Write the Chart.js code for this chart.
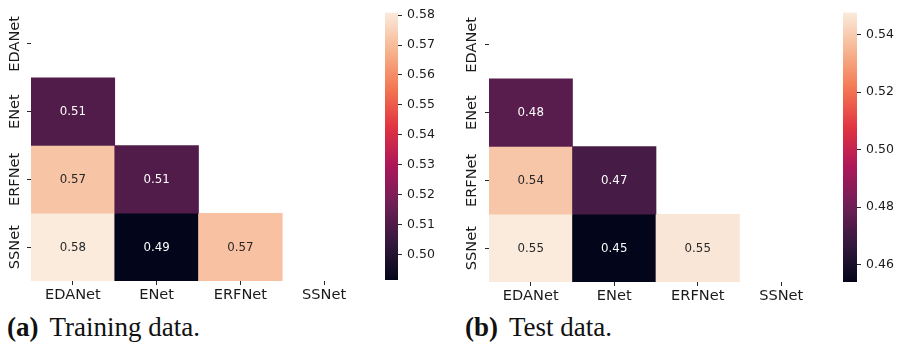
<!DOCTYPE html>
<html>
<head>
<meta charset="utf-8">
<script src="https://cdn.jsdelivr.net/npm/chart.js@4.4.1/dist/chart.umd.min.js"></script>
<style>
  html, body { margin: 0; padding: 0; background: #fff; width: 898px; height: 347px; overflow: hidden; }
  canvas { position: absolute; display: block; }
  .cap { position: absolute; font-family: "Liberation Serif", "Times New Roman", serif; font-size: 27px;
         line-height: 27px; color: #111; white-space: nowrap; }
  .cap b { margin-right: 11px; }
</style>
</head>
<body>
<canvas id="heatTrain" width="380" height="310" style="left:0;top:0"></canvas>
<canvas id="barTrain" width="70" height="300" style="left:380px;top:0"></canvas>
<canvas id="heatTest" width="390" height="310" style="left:450px;top:0"></canvas>
<canvas id="barTest" width="60" height="300" style="left:838px;top:0"></canvas>
<div class="cap" style="left:7px;top:314px"><b>(a)</b>Training data.</div>
<div class="cap" style="left:465px;top:314px"><b>(b)</b>Test data.</div>

<script>
// Models compared pairwise (rows and columns share the same order)
const models = ['EDANet', 'ENet', 'ERFNet', 'SSNet'];

// Lower-triangle similarity scores, one row per model (null = masked cell)
const trainScores = [
  [null,   null,   null,   null],
  [0.5105, null,   null,   null],
  [0.5718, 0.5105, null,   null],
  [0.5809, 0.4914, 0.5712, null]
];
const testScores = [
  [null,   null,   null,   null],
  [0.4755, null,   null,   null],
  [0.5385, 0.4712, null,   null],
  [0.5477, 0.4539, 0.5466, null]
];

// Colour-bar tick labels
const trainBarTicks = [0.50, 0.51, 0.52, 0.53, 0.54, 0.55, 0.56, 0.57, 0.58];
const testBarTicks = [0.46, 0.48, 0.50, 0.52, 0.54];

// "rocket" sequential colormap stops
const rocketStops = [
  [0, '#03051a'], [1 / 7, '#35193e'], [2 / 7, '#701f57'], [3 / 7, '#ad1759'],
  [4 / 7, '#e13342'], [5 / 7, '#f37651'], [6 / 7, '#f6b48f'], [1, '#faebdd']
];

function hexRgb(h) {
  return [parseInt(h.slice(1, 3), 16), parseInt(h.slice(3, 5), 16), parseInt(h.slice(5, 7), 16)];
}
function rocket(t) {
  t = Math.max(0, Math.min(1, t));
  for (let k = 1; k < rocketStops.length; k++) {
    const [p1, c1] = rocketStops[k];
    if (t <= p1) {
      const [p0, c0] = rocketStops[k - 1];
      const f = (t - p0) / (p1 - p0);
      const a = hexRgb(c0), b = hexRgb(c1);
      return a.map((v, i) => Math.round(v + (b[i] - v) * f));
    }
  }
  return hexRgb(rocketStops[rocketStops.length - 1][1]);
}
const rgbStr = c => `rgb(${c[0]},${c[1]},${c[2]})`;

function range(scores) {
  const flat = scores.flat().filter(v => v !== null);
  return [Math.min(...flat), Math.max(...flat)];
}

const tickColor = '#262626';
const labelColor = '#1a1a1a';

// Writes each cell's value in its centre
const cellLabels = {
  id: 'cellLabels',
  afterDatasetsDraw(chart) {
    const ctx = chart.ctx;
    ctx.save();
    ctx.font = '11.8px "DejaVu Sans"';
    ctx.textAlign = 'center';
    ctx.textBaseline = 'middle';
    chart.data.datasets.forEach((ds, di) => {
      chart.getDatasetMeta(di).data.forEach((el, j) => {
        const v = ds.scores[j];
        if (v === null || v === undefined) return;
        const p = el.getCenterPoint();
        ctx.fillStyle = ds.textColors[j];
        ctx.fillText(v.toFixed(2), p.x, p.y + 0.5);
      });
    });
    ctx.restore();
  }
};

// Vertical row labels on the left axis
const rowLabels = {
  id: 'rowLabels',
  afterDraw(chart, args, opts) {
    const ctx = chart.ctx, y = chart.scales.y;
    ctx.save();
    ctx.font = '14.6px "DejaVu Sans"';
    ctx.fillStyle = labelColor;
    ctx.textAlign = 'center';
    ctx.textBaseline = 'middle';
    models.forEach((m, i) => {
      ctx.save();
      ctx.translate(opts.x, y.getPixelForValue(i + 0.5));
      ctx.rotate(-Math.PI / 2);
      ctx.fillText(m, 0, 0);
      ctx.restore();
    });
    ctx.restore();
  }
};

function heatmap(id, scores, g) {
  const [vmin, vmax] = range(scores);
  const datasets = [];
  scores.forEach((row, i) => {
    const data = row.map(v => (v === null ? null : [i, i + 1]));
    const cols = row.map(v => (v === null ? 'rgba(0,0,0,0)' : rgbStr(rocket((v - vmin) / (vmax - vmin)))));
    const txt = row.map(v => {
      if (v === null) return null;
      const c = rocket((v - vmin) / (vmax - vmin));
      const lum = 0.2126 * c[0] + 0.7152 * c[1] + 0.0722 * c[2];
      return lum < 104 ? '#ffffff' : '#262626';
    });
    datasets.push({ data, backgroundColor: cols, scores: row, textColors: txt });
  });

  return new Chart(document.getElementById(id), {
    type: 'bar',
    data: { labels: models, datasets },
    options: {
      responsive: false,
      animation: false,
      devicePixelRatio: 1,
      layout: { padding: { top: g.top, right: g.right, left: 0, bottom: 0 } },
      datasets: { bar: { grouped: false, barPercentage: 1, categoryPercentage: 1, borderWidth: 0 } },
      plugins: { legend: { display: false }, tooltip: { enabled: false }, rowLabels: { x: g.labelX } },
      scales: {
        x: {
          type: 'category',
          offset: true,
          grid: { offset: false, drawOnChartArea: false, tickLength: 4, tickColor: tickColor },
          border: { display: false },
          ticks: { font: { family: 'DejaVu Sans', size: 14.6 }, color: labelColor, padding: 1,
                   maxRotation: 0, minRotation: 0, autoSkip: false },
          afterFit: s => { s.height = g.xAxisH; }
        },
        y: {
          type: 'linear',
          min: 0,
          max: 4,
          reverse: true,
          grid: { drawOnChartArea: false, tickLength: 4, tickColor: tickColor },
          border: { display: false },
          ticks: { display: false },
          afterBuildTicks: s => { s.ticks = models.map((m, i) => ({ value: i + 0.5 })); },
          afterFit: s => { s.width = g.yAxisW; }
        }
      }
    },
    plugins: [cellLabels, rowLabels]
  });
}

function colorBar(id, scores, ticks, g) {
  const [vmin, vmax] = range(scores);
  return new Chart(document.getElementById(id), {
    type: 'bar',
    data: {
      labels: [''],
      datasets: [{
        data: [[vmin, vmax]],
        borderWidth: 0,
        barPercentage: 1,
        categoryPercentage: 1,
        backgroundColor: c => {
          const a = c.chart.chartArea;
          if (!a) return '#888';
          const grad = c.chart.ctx.createLinearGradient(0, a.bottom, 0, a.top);
          for (let k = 0; k <= 40; k++) grad.addColorStop(k / 40, rgbStr(rocket(k / 40)));
          return grad;
        }
      }]
    },
    options: {
      responsive: false,
      animation: false,
      devicePixelRatio: 1,
      layout: { padding: { left: g.left, top: g.top, bottom: g.bottom, right: 0 } },
      plugins: { legend: { display: false }, tooltip: { enabled: false } },
      scales: {
        x: { display: false, offset: true },
        y: {
          position: 'right',
          min: vmin,
          max: vmax,
          grid: { drawOnChartArea: false, tickLength: 4, tickColor: tickColor },
          border: { display: false },
          ticks: { font: { family: 'DejaVu Sans', size: 12.5 }, color: labelColor, padding: 5,
                   callback: v => Number(v).toFixed(2) },
          afterBuildTicks: s => { s.ticks = ticks.map(v => ({ value: v })); },
          afterFit: s => { s.width = g.axisW; }
        }
      }
    }
  });
}

heatmap('heatTrain', trainScores, { top: 10, right: 14, xAxisH: 29, yAxisW: 31, labelX: 15 });
colorBar('barTrain', trainScores, trainBarTicks, { left: 5, top: 9, bottom: 20, axisW: 52 });
heatmap('heatTest', testScores, { top: 11, right: 17, xAxisH: 28, yAxisW: 39, labelX: 22 });
colorBar('barTest', testScores, testBarTicks, { left: 5, top: 10, bottom: 18, axisW: 41 });
</script>
</body>
</html>
